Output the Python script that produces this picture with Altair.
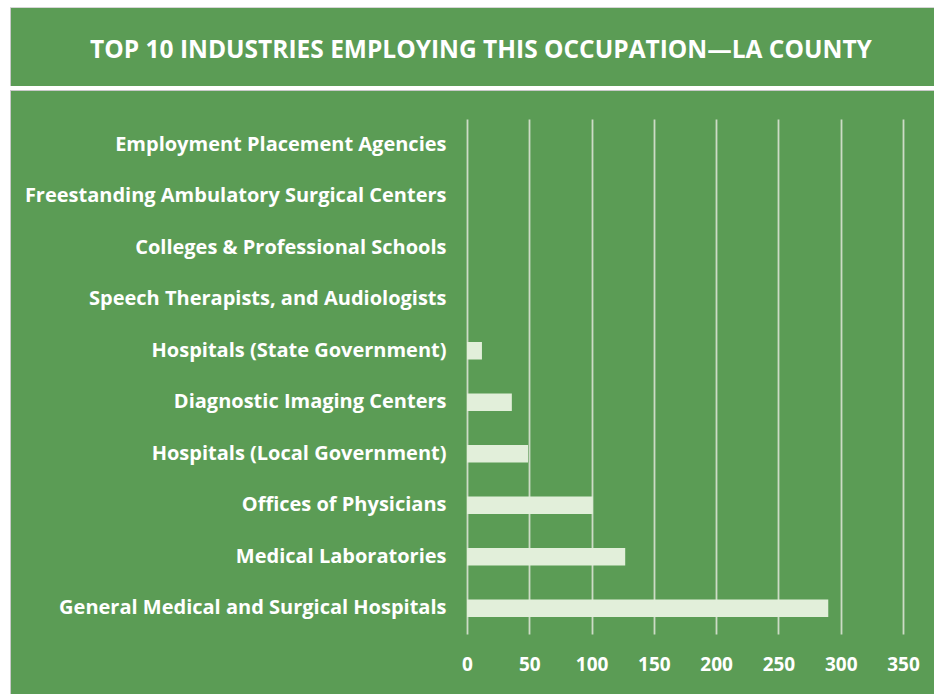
import altair as alt
import pandas as pd

title_text = "TOP 10 INDUSTRIES EMPLOYING THIS OCCUPATION\u2014LA COUNTY"
industries = [
    "Employment Placement Agencies",
    "Freestanding Ambulatory Surgical Centers",
    "Colleges & Professional Schools",
    "Speech Therapists, and Audiologists",
    "Hospitals (State Government)",
    "Diagnostic Imaging Centers",
    "Hospitals (Local Government)",
    "Offices of Physicians",
    "Medical Laboratories",
    "General Medical and Surgical Hospitals",
]
employment = [0, 0, 0, 0, 12, 36, 49, 101, 127, 290]
x_ticks = [0, 50, 100, 150, 200, 250, 300, 350]

GREEN = "#5b9c55"
BAR = "#e2efda"
GRID = "#cddbc6"
FONT = "Open Sans"

L, T = 467, 119  # plot origin in page pixels

df = pd.DataFrame({"industry": industries, "employment": employment})

bars = alt.Chart(df).mark_bar(color=BAR).encode(
    x=alt.X(
        "employment:Q",
        scale=alt.Scale(domain=[0, 350], nice=False),
        axis=alt.Axis(
            values=x_ticks, grid=True, gridColor=GRID, gridWidth=1.8,
            domain=False, ticks=False, tickSize=0, labelPadding=21,
            labelFlush=False,
            labelFont=FONT, labelFontSize=19, labelFontWeight="bold",
            labelColor="white", title=None,
        ),
    ),
    y=alt.Y(
        "industry:N", sort=industries,
        scale=alt.Scale(paddingInner=0.66, paddingOuter=0.33),
        axis=alt.Axis(
            domain=False, ticks=False, tickSize=0, labelPadding=21,
            labelFont=FONT, labelFontSize=20, labelFontWeight="bold",
            labelColor="white", title=None, labelLimit=0,
        ),
    ),
)

one = alt.Data(values=[{"k": 1}])

def box(x1, x2, y1, y2, color):
    return alt.Chart(one).mark_rect(color=color).encode(
        x=alt.value(x1 - L), x2=alt.value(x2 - L),
        y=alt.value(y1 - T), y2=alt.value(y2 - T),
    )

deco = [
    box(0, 10, 0, 694, "white"),
    box(0, 934, 0, 7, "white"),
    box(0, 934, 86, 90, "white"),
    box(10, 11, 7, 86, "#c9c9c9"),
    box(10, 11, 90, 694, "#c9c9c9"),
    box(10, 934, 7, 8, "#d6d6d6"),
    box(10, 934, 90, 91, "#c9c9c9"),
]

title = alt.Chart(one).mark_text(
    font=FONT, fontSize=24.5, fontWeight="bold", color="white",
    align="center", baseline="middle",
).encode(x=alt.value(481 - L), y=alt.value(51 - T), text=alt.value(title_text))

chart = alt.layer(bars, *deco, title).properties(
    width=436, height=515,
    autosize=alt.AutoSizeParams(type="none"),
    padding={"left": L, "top": T, "right": 934 - L - 436, "bottom": 694 - T - 515},
    background=GREEN,
).configure_view(stroke=None)

chart.save("out.html", embed_options={"renderer": "svg", "actions": False})
